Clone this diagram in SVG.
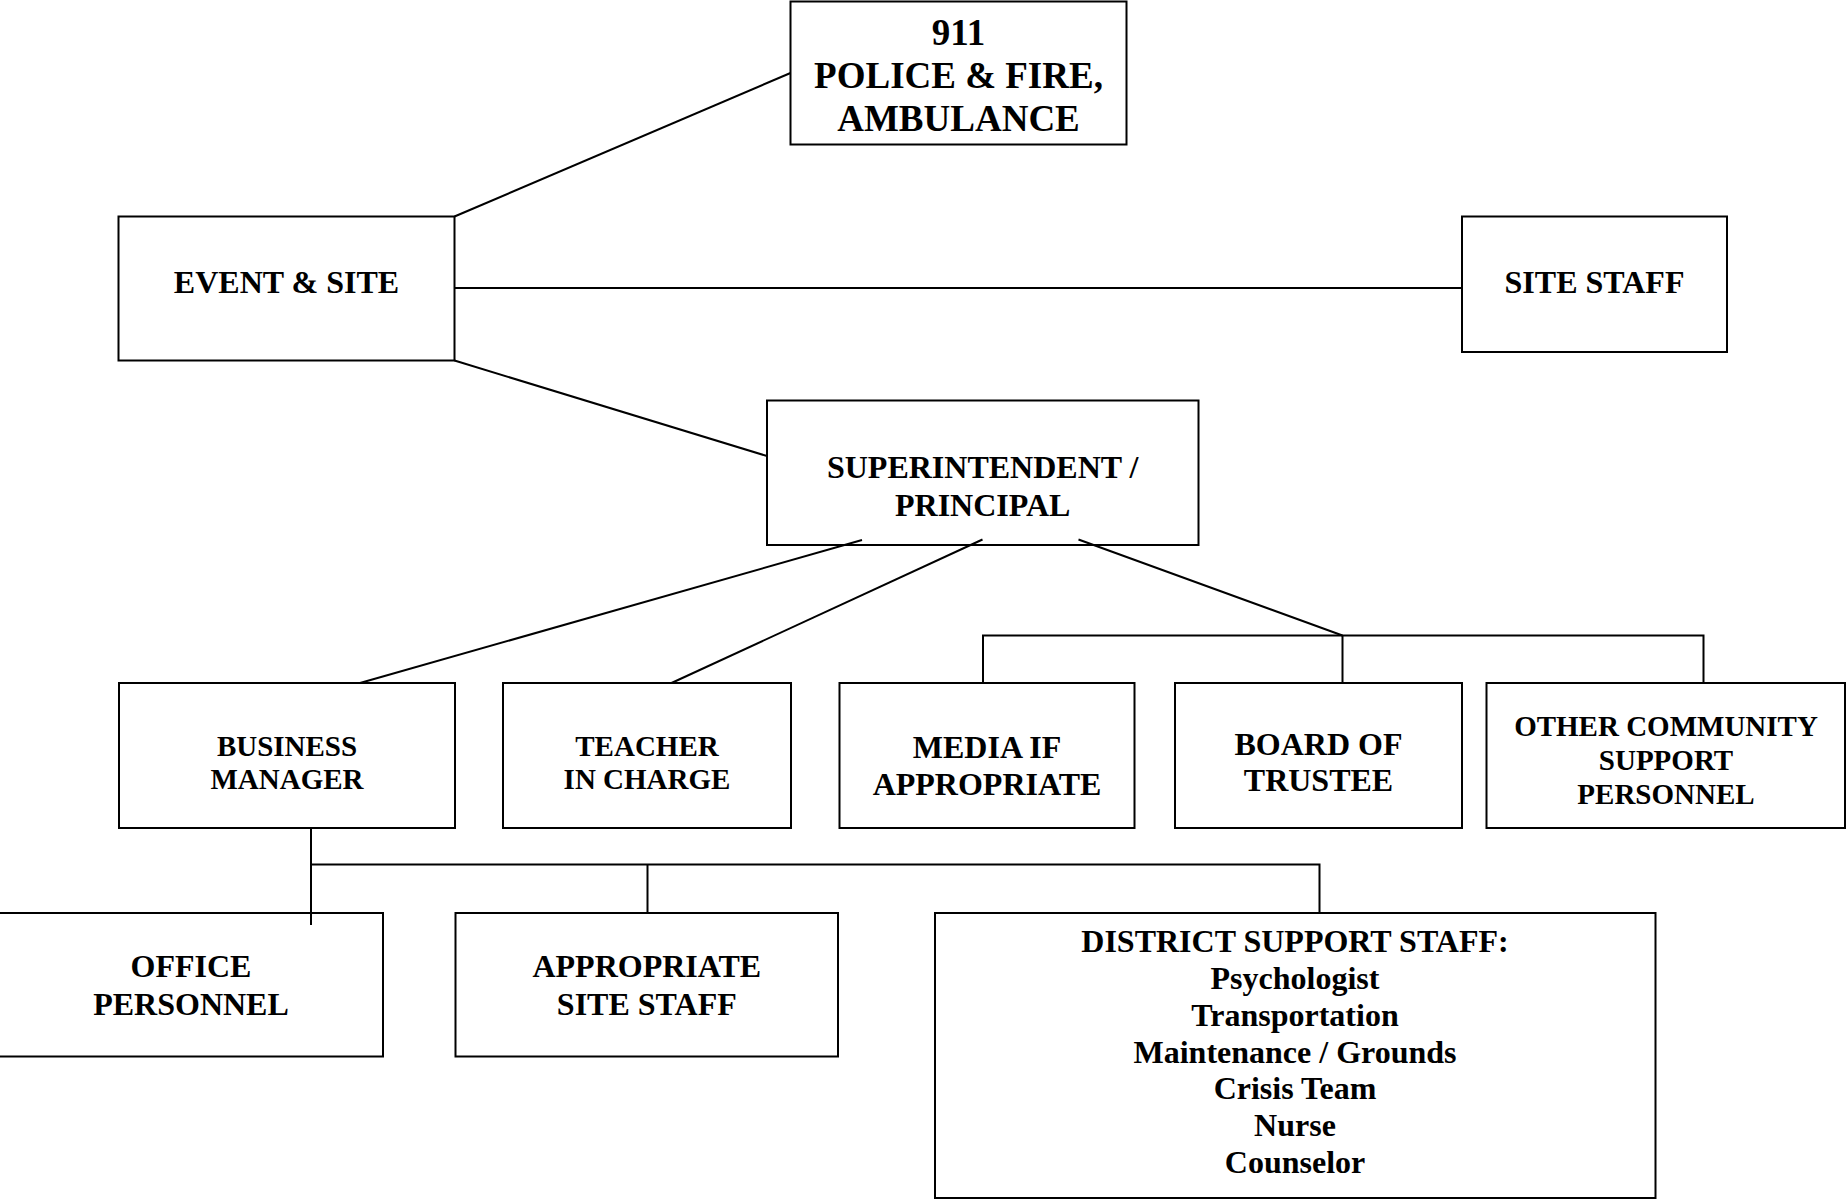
<svg xmlns="http://www.w3.org/2000/svg" width="1846" height="1199" viewBox="0 0 1846 1199">
<style>
.box{fill:#fff;stroke:#000;stroke-width:2}
.ln{stroke:#000;stroke-width:2;fill:none}
text{font-family:"Liberation Serif","Times New Roman",serif;font-weight:bold;fill:#000;text-anchor:middle}
.f37{font-size:37px}
.f32{font-size:32px}
.f29{font-size:29px}
</style>
<rect width="1846" height="1199" fill="#fff"/>
<g id="n911">
<rect class="box" x="790.5" y="1.5" width="336" height="143"/>
<text class="f37" x="958.5" y="45">911</text>
<text class="f37" x="958.5" y="88">POLICE &amp; FIRE,</text>
<text class="f37" x="958.5" y="131">AMBULANCE</text>
</g>
<g id="event">
<rect class="box" x="118.5" y="216.5" width="336" height="144"/>
<text class="f32" x="286.5" y="293">EVENT &amp; SITE</text>
</g>
<g id="sitestaff">
<rect class="box" x="1462" y="216.5" width="265" height="135.5"/>
<text class="f32" x="1594.5" y="293">SITE STAFF</text>
</g>
<g id="superintendent">
<rect class="box" x="767" y="400.5" width="431.5" height="144.5"/>
<text class="f32" x="982.7" y="478">SUPERINTENDENT /</text>
<text class="f32" x="982.7" y="515.5">PRINCIPAL</text>
</g>
<g id="business">
<rect class="box" x="119" y="683" width="336" height="145"/>
<text class="f29" x="287" y="756">BUSINESS</text>
<text class="f29" x="287" y="789">MANAGER</text>
</g>
<g id="teacher">
<rect class="box" x="503" y="683" width="288" height="145"/>
<text class="f29" x="647" y="756">TEACHER</text>
<text class="f29" x="647" y="789">IN CHARGE</text>
</g>
<g id="media">
<rect class="box" x="839.5" y="683" width="295" height="145"/>
<text class="f32" x="987" y="758">MEDIA IF</text>
<text class="f32" x="987" y="794.5">APPROPRIATE</text>
</g>
<g id="board">
<rect class="box" x="1175" y="683" width="287" height="145"/>
<text class="f32" x="1318.5" y="754.5">BOARD OF</text>
<text class="f32" x="1318.5" y="791">TRUSTEE</text>
</g>
<g id="other">
<rect class="box" x="1486.5" y="683" width="358.5" height="145"/>
<text class="f29" x="1666" y="736">OTHER COMMUNITY</text>
<text class="f29" x="1666" y="770">SUPPORT</text>
<text class="f29" x="1666" y="804">PERSONNEL</text>
</g>
<g id="office">
<rect class="box" x="-1" y="913" width="384" height="143.5"/>
<text class="f32" x="191" y="977">OFFICE</text>
<text class="f32" x="191" y="1015">PERSONNEL</text>
</g>
<g id="appsite">
<rect class="box" x="455.5" y="913" width="382.5" height="143.5"/>
<text class="f32" x="646.8" y="977">APPROPRIATE</text>
<text class="f32" x="646.8" y="1015">SITE STAFF</text>
</g>
<g id="district">
<rect class="box" x="935" y="913" width="720.5" height="285"/>
<text class="f32" x="1295" y="952">DISTRICT SUPPORT STAFF:</text>
<text class="f32" x="1295" y="989">Psychologist</text>
<text class="f32" x="1295" y="1025.5">Transportation</text>
<text class="f32" x="1295" y="1062.5">Maintenance / Grounds</text>
<text class="f32" x="1295" y="1099">Crisis Team</text>
<text class="f32" x="1295" y="1136">Nurse</text>
<text class="f32" x="1295" y="1172.5">Counselor</text>
</g>
<g id="connectors">
<line class="ln" x1="454.5" y1="216.5" x2="790.5" y2="73"/>
<line class="ln" x1="454.5" y1="288" x2="1462" y2="288"/>
<line class="ln" x1="454.5" y1="360.5" x2="767" y2="456"/>
<line class="ln" x1="862" y1="540" x2="360" y2="683"/>
<line class="ln" x1="982.5" y1="539.5" x2="671.5" y2="683"/>
<line class="ln" x1="1078.5" y1="539.5" x2="1342.5" y2="635.5"/>
<polyline class="ln" points="983,683 983,635.5 1703.5,635.5 1703.5,683"/>
<line class="ln" x1="1342.5" y1="635.5" x2="1342.5" y2="683"/>
<line class="ln" x1="311" y1="828" x2="311" y2="925"/>
<polyline class="ln" points="311,864.5 1319.5,864.5 1319.5,913"/>
<line class="ln" x1="647.5" y1="864.5" x2="647.5" y2="913"/>
</g>
</svg>
